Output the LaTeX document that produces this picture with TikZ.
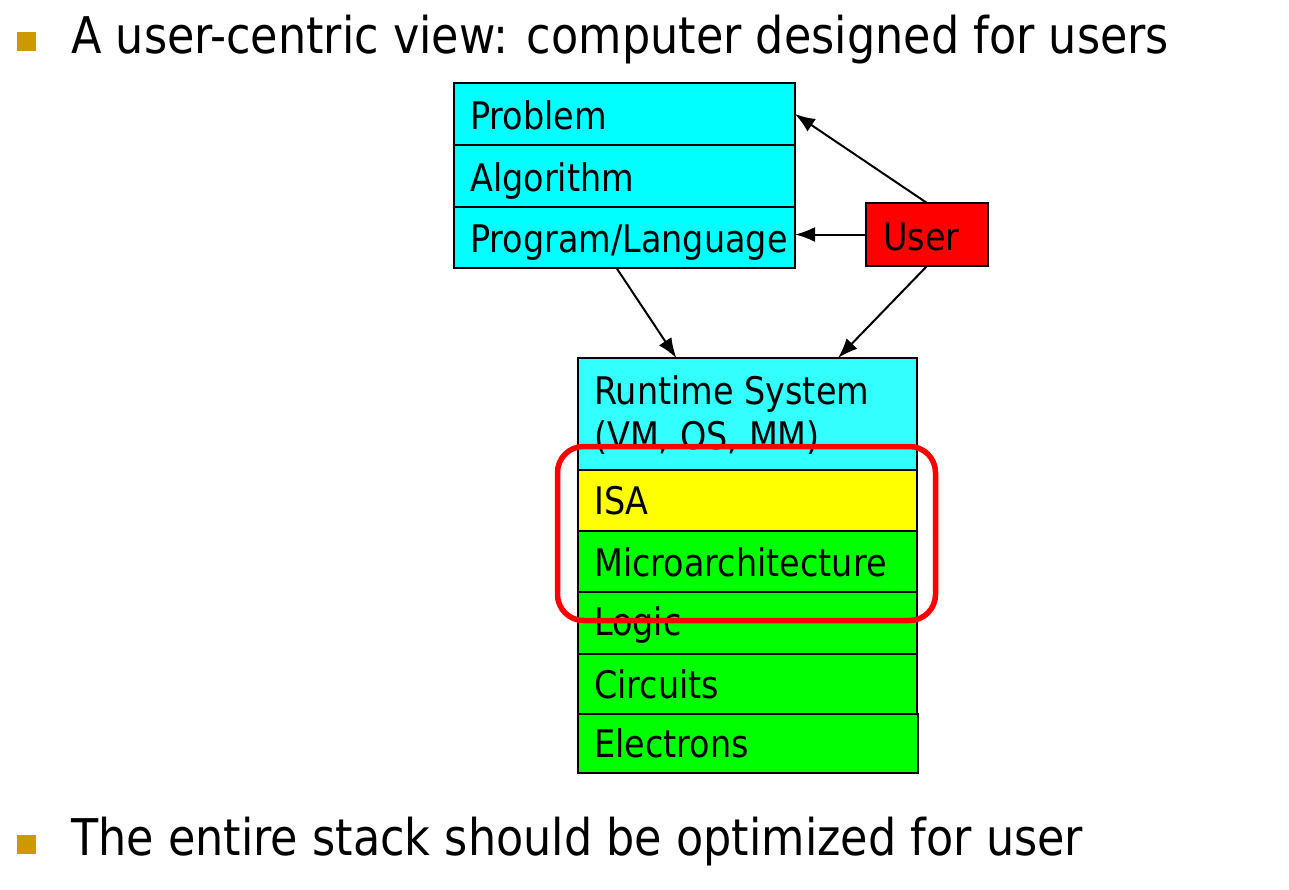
\documentclass[tikz,border=0pt]{standalone}
\usepackage{fontspec}
\setmainfont{DejaVu Sans}[FakeStretch=0.88]
\usetikzlibrary{calc,arrows.meta}
\definecolor{topcyan}{HTML}{00FFFF}
\definecolor{rtcyan}{HTML}{33FFFF}
\definecolor{isay}{HTML}{FFFF00}
\definecolor{hwgreen}{HTML}{00FF00}
\definecolor{userred}{HTML}{FF0000}
\definecolor{bulletgold}{HTML}{CC9900}
\begin{document}
\begin{tikzpicture}[x=1pt,y=-1pt,
 layer/.style={draw=black, line width=2.8pt, minimum width=341pt, minimum height=62pt, anchor=north west, inner sep=0pt, outer sep=0pt},
 lbl/.style={anchor=base west, inner sep=0pt, font=\fontsize{38}{40}\selectfont},
 titletext/.style={anchor=base west, inner sep=0pt, font=\fontsize{50.6}{60}\selectfont},
 bul/.style={fill=bulletgold, minimum size=19pt, inner sep=0pt, outer sep=0pt, anchor=north west},
 conn/.style={line width=2pt, arrows={-Latex[length=20pt,width=15pt]}}]

\useasboundingbox (0,0) rectangle (1289,889);
\fill[white] (0,0) rectangle (1289,889);

% bullets and titles
\node[bul] (b1) at (17,32) {};
\node[titletext] (t1) at (71,53) {A user-centric view: computer designed for users};
\node[bul] (b2) at (17,835) {};
\node[titletext] (t2) at (71,855) {The entire stack should be optimized for user};

% upper stack
\node[layer, fill=topcyan] (prob) at (454,83) {};
\node[layer, fill=topcyan] (alg) at (454,145) {};
\node[layer, fill=topcyan, minimum height=61pt] (prog) at (454,207) {};
\node[lbl] (probt) at ([xshift=16pt,yshift=-15pt]prob.west) {Problem};
\node[lbl] (algt) at ([xshift=16pt,yshift=-15pt]alg.west) {Algorithm};
\node[lbl] (progt) at ([xshift=16pt,yshift=-15pt]prog.west) {Program/Language};

% user
\node[draw=black, line width=2.8pt, fill=userred, minimum width=122pt, minimum height=63pt, anchor=north west, inner sep=0pt, outer sep=0pt] (user) at (866,203) {};
\node[lbl] (usert) at ([xshift=17pt,yshift=-16pt]user.west) {User};

% lower stack
\node[layer, fill=rtcyan, minimum width=339pt, minimum height=112pt] (rt) at (578,358) {};
\node[layer, fill=isay, minimum width=339pt, minimum height=61pt] (isa) at (578,470) {};
\node[layer, fill=hwgreen, minimum width=339pt, minimum height=61pt] (micro) at (578,531) {};
\node[layer, fill=hwgreen, minimum width=339pt, minimum height=62pt] (logic) at (578,592) {};
\node[layer, fill=hwgreen, minimum width=339pt, minimum height=60pt] (circ) at (578,654) {};
\node[layer, fill=hwgreen, minimum width=340pt, minimum height=59pt] (elec) at (578,714) {};

\node[lbl] (rtt1) at ($(rt.north west)+(16,46)$) {Runtime System};
\node[lbl] (rtt2) at ($(rt.north west)+(16,91)$) {(VM, OS, MM)};
\node[lbl] (isat) at ([xshift=16pt,yshift=-14pt]isa.west) {ISA};
\node[lbl] (microt) at ([xshift=16pt,yshift=-15pt]micro.west) {Microarchitecture};
\node[lbl] (logict) at ([xshift=16pt,yshift=-12pt]logic.west) {Logic};
\node[lbl] (circt) at ([xshift=16pt,yshift=-14pt]circ.west) {Circuits};
\node[lbl] (elect) at ([xshift=16pt,yshift=-14pt]elec.west) {Electrons};

% connectors
\draw[conn] (user.north) -- (prob.east);
\draw[conn] (user.west) -- (user.west -| prog.east);
\draw[conn] ([xshift=-8pt]prog.south) -- ($(rt.north west)!0.29!(rt.north east)$);
\draw[conn] (user.south) -- ($(rt.north west)!0.767!(rt.north east)$);

% highlight
\node[draw=userred, line width=5.5pt, rounded corners=26pt, minimum width=378pt, minimum height=174pt, inner sep=0pt] (hl) at (746.5,533.5) {};
\end{tikzpicture}
\end{document}
